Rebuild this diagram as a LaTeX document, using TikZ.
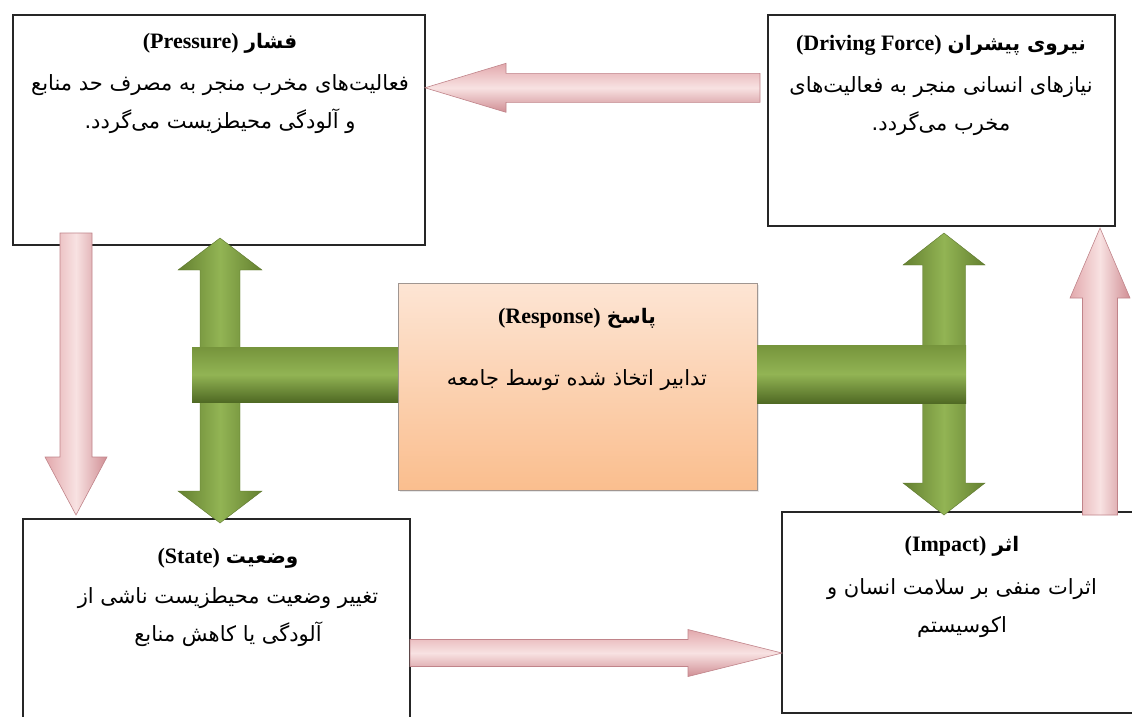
\documentclass[tikz,border=0pt]{standalone}
\usepackage{fontspec}
\setmainfont{Liberation Serif}
\newfontfamily\fa[Script=Arabic]{DejaVu Sans}
\TeXXeTstate=1
\usetikzlibrary{calc,shadows}

% palette
\definecolor{boxline}{RGB}{38,38,38}
\definecolor{pkA}{RGB}{226,168,172}
\definecolor{pkB}{RGB}{208,142,148}
\definecolor{pkC}{RGB}{248,226,226}
\definecolor{pkD}{RGB}{192,132,138}
\definecolor{gD}{RGB}{100,128,48}
\definecolor{gL}{RGB}{146,180,84}
\definecolor{gE}{RGB}{92,118,44}
\definecolor{gT}{RGB}{118,148,60}
\definecolor{gB}{RGB}{80,106,36}
\definecolor{rsA}{RGB}{253,229,212}
\definecolor{rsB}{RGB}{250,190,142}
\definecolor{rsE}{RGB}{160,150,145}

% bilingual heading: Persian word on the right, Latin term on the left
\newcommand\heading[2]{\beginR{\fa\bfseries\fontsize{20}{22}\selectfont #1}\hspace{6pt}\beginL{\bfseries\fontsize{22}{22}\selectfont #2}\endL\endR}

% straight block arrow from tail #2 to tip #3
\newcommand\blockarrow[6]{%
  \coordinate (ba-t) at #2;
  \coordinate (ba-h) at #3;
  \coordinate (ba-b) at ($(ba-h)!#6!(ba-t)$);
  \path[#1] ($(ba-t)!#4!90:(ba-h)$) -- ($(ba-b)!#4!-90:(ba-t)$) -- ($(ba-b)!#5!-90:(ba-t)$)
    -- (ba-h) -- ($(ba-b)!#5!90:(ba-t)$) -- ($(ba-b)!#4!90:(ba-t)$) -- ($(ba-t)!#4!-90:(ba-h)$) -- cycle;
}

% block arrow with heads at both ends #2 and #3
\newcommand\dblockarrow[6]{%
  \coordinate (da-a) at #2;
  \coordinate (da-b) at #3;
  \coordinate (da-a1) at ($(da-a)!#6!(da-b)$);
  \coordinate (da-b1) at ($(da-b)!#6!(da-a)$);
  \path[#1] (da-a) -- ($(da-a1)!#5!90:(da-b)$) -- ($(da-a1)!#4!90:(da-b)$)
    -- ($(da-b1)!#4!-90:(da-a)$) -- ($(da-b1)!#5!-90:(da-a)$) -- (da-b)
    -- ($(da-b1)!#5!90:(da-a)$) -- ($(da-b1)!#4!90:(da-a)$)
    -- ($(da-a1)!#4!-90:(da-b)$) -- ($(da-a1)!#5!-90:(da-b)$) -- cycle;
}

\tikzset{
  panel/.style={draw=boxline, line width=1.3pt, fill=white, anchor=north west,
    inner sep=0pt, outer sep=0pt},
  respbox/.style={draw=rsE, line width=0.8pt, anchor=north west, inner sep=0pt, outer sep=0pt,
    top color=rsA, bottom color=rsB,
    drop shadow={opacity=0.18, shadow xshift=2pt, shadow yshift=-2pt}},
  bodytext/.style={align=center, inner sep=0pt, font={\fa\fontsize{21}{38}\selectfont}},
  titletext/.style={inner sep=0pt},
  pinkh/.style={top color=pkA, bottom color=pkB, middle color=pkC, draw=pkD, line width=0.6pt},
  pinkv/.style={left color=pkA, right color=pkB, middle color=pkC, draw=pkD, line width=0.6pt},
  greenv/.style={left color=gD, right color=gD, middle color=gL, draw=gE, line width=0.4pt},
  greenbar/.style={top color=gT, bottom color=gB, middle color=gL},
}

\begin{document}
\begin{tikzpicture}[x=1pt,y=-1pt]
\useasboundingbox (0,0) rectangle (1132,716);
\clip (0,0) rectangle (1132,716);

% the five stages
\node[panel, minimum width=412pt, minimum height=230pt] (prs) at (13,15) {};
\node[panel, minimum width=347pt, minimum height=211pt] (drv) at (768,15) {};
\node[respbox, minimum width=359pt, minimum height=207pt] (rsp) at (398,283) {};
\node[panel, minimum width=387pt, minimum height=210pt] (stt) at (23,519) {};
\node[panel, minimum width=360pt, minimum height=201pt] (imp) at (782,512) {};

% texts
\node[titletext] (prs-t) at (220,43) {\heading{فشار}{(Pressure)}};
\node[bodytext] (prs-b) at (220,104) {\beginR فعالیت^^^^200cهای مخرب منجر به مصرف حد منابع\endR\\\beginR و آلودگی محیطزیست می^^^^200cگردد\hbox{.}\endR};

\node[titletext] (drv-t) at (941,45) {\heading{نیروی پیشران}{(Driving Force)}};
\node[bodytext] (drv-b) at (941,106) {\beginR نیازهای انسانی منجر به فعالیت^^^^200cهای\endR\\\beginR مخرب می^^^^200cگردد\hbox{.}\endR};

\node[titletext] (rsp-t) at (577,318) {\heading{پاسخ}{(Response)}};
\node[bodytext] (rsp-b) at (577,380) {\beginR تدابیر اتخاذ شده توسط جامعه\endR};

\node[titletext] (stt-t) at (228,558) {\heading{وضعیت}{(State)}};
\node[bodytext] (stt-b) at (228,617) {\beginR تغییر وضعیت محیطزیست ناشی از\endR\\\beginR آلودگی یا کاهش منابع\endR};

\node[titletext] (imp-t) at (962,546) {\heading{اثر}{(Impact)}};
\node[bodytext] (imp-b) at (962,608) {\beginR اثرات منفی بر سلامت انسان و\endR\\\beginR اکوسیستم\endR};

% anchor points of the connectors
\coordinate (pk1-tail) at ($(drv.north west)!0.345!(drv.south west)+(-8,0)$);
\coordinate (pk1-tip) at (prs.east |- pk1-tail);
\coordinate (pk2-tail) at ($(prs.south west)+(63,-12)$);
\coordinate (pk2-end) at (pk2-tail |- stt.north);
\coordinate (pk2-tip) at ($(pk2-end)+(0,-4)$);
\coordinate (pk3-tail) at ($(stt.north east)+(0,134)$);
\coordinate (pk3-tip) at (imp.west |- pk3-tail);
\coordinate (pk4-tail) at ($(imp.north west)+(318,3)$);
\coordinate (pk4-end) at (pk4-tail |- drv.south);
\coordinate (pk4-tip) at ($(pk4-end)+(0,2)$);

\coordinate (gl-top) at ($(prs.south west)+(207,-7)$);
\coordinate (gl-end) at (gl-top |- stt.north);
\coordinate (gl-bot) at ($(gl-end)+(0,4)$);
\coordinate (gl-join) at ($(rsp.north west)+(0,91.5)$);
\coordinate (gl-mid) at (gl-top |- gl-join);

\coordinate (gr-top) at ($(drv.south west)+(176,7)$);
\coordinate (gr-end) at (gr-top |- imp.north);
\coordinate (gr-bot) at ($(gr-end)+(0,3)$);
\coordinate (gr-join) at ($(rsp.north east)+(0,91)$);
\coordinate (gr-mid) at (gr-top |- gr-join);

% cycle of pink arrows
\blockarrow{pinkh}{(pk1-tail)}{(pk1-tip)}{14.5pt}{24.5pt}{81pt}
\blockarrow{pinkv}{(pk2-tail)}{(pk2-tip)}{16pt}{31pt}{58pt}
\blockarrow{pinkh}{(pk3-tail)}{(pk3-tip)}{13.5pt}{23.5pt}{94pt}
\blockarrow{pinkv}{(pk4-tail)}{(pk4-tip)}{17.5pt}{30pt}{70pt}

% response links in green
\dblockarrow{greenv}{(gl-top)}{(gl-bot)}{20pt}{42pt}{32pt}
\path[greenbar] ($(gl-mid)+(-28,-27.5)$) rectangle ($(gl-join)+(0,27.5)$);
\dblockarrow{greenv}{(gr-top)}{(gr-bot)}{21.5pt}{41pt}{32pt}
\path[greenbar] ($(gr-join)+(0,-29)$) rectangle ($(gr-mid)+(22,29)$);
\end{tikzpicture}
\end{document}
